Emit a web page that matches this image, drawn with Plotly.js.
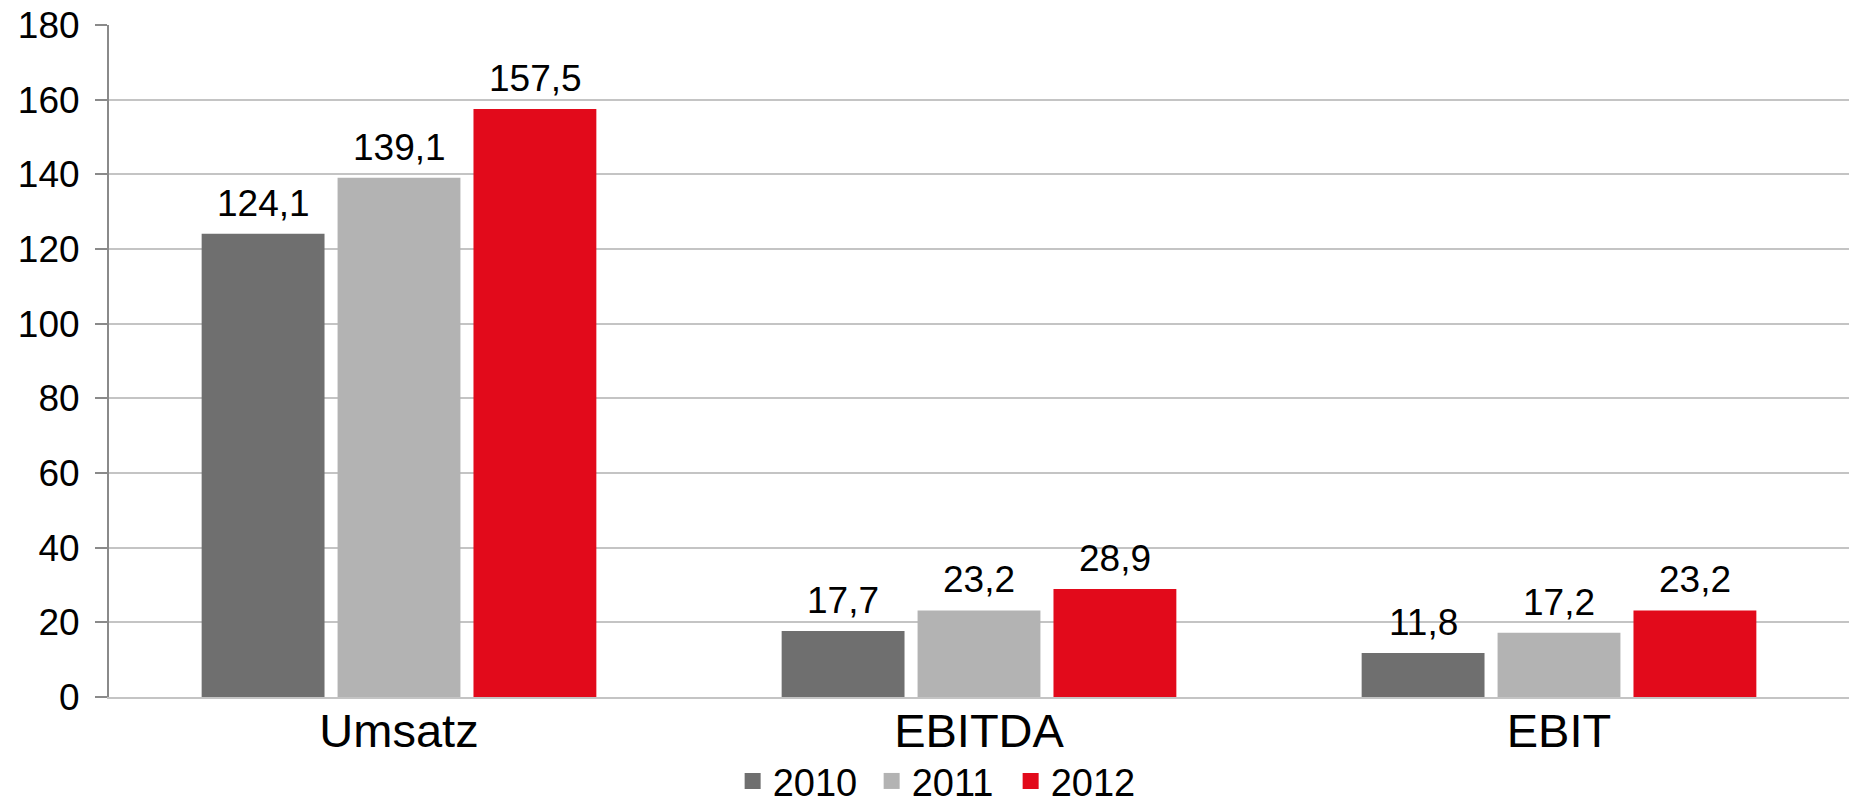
<!DOCTYPE html>
<html>
<head>
<meta charset="utf-8">
<script src="https://cdn.plot.ly/plotly-3.0.1.min.js"></script>
<style>html,body{margin:0;padding:0;background:#fff;}#chart{width:1849px;height:798px;}</style>
</head>
<body>
<div id="chart"></div>
<script>
const categories = ["Umsatz", "EBITDA", "EBIT"];
const years = ["2010", "2011", "2012"];
const values2010 = [124.1, 17.7, 11.8];
const values2011 = [139.1, 23.2, 17.2];
const values2012 = [157.5, 28.9, 23.2];
const yTicks = [0, 20, 40, 60, 80, 100, 120, 140, 160, 180];

const seriesValues = [values2010, values2011, values2012];
const colors = ["#6f6f6f", "#b3b3b3", "#e20a1b"];
const FONT = "Liberation Sans, Arial, sans-serif";

const traces = seriesValues.map((vals, i) => ({
  type: "bar",
  name: years[i],
  x: categories,
  y: vals,
  marker: {color: colors[i]},
  showlegend: false,
  hoverinfo: "x+y"
}));
// legend proxies (bigger square symbols)
years.forEach((yr, i) => {
  traces.push({
    type: "scatter", mode: "markers", name: yr,
    x: [null], y: [null],
    marker: {symbol: "square", size: 19, color: colors[i]},
    showlegend: true, hoverinfo: "skip"
  });
});

const annotations = [];
seriesValues.forEach((vals, i) => {
  vals.forEach((v, j) => {
    annotations.push({
      x: categories[j], y: v, xref: "x", yref: "y",
      text: v.toFixed(1).replace(".", ","),
      showarrow: false, yanchor: "bottom",
      xshift: (i - 1) * 136, yshift: 8,
      font: {family: FONT, size: 37, color: "#000"}
    });
  });
});

const layout = {
  width: 1849, height: 798,
  margin: {l: 109, r: 0, t: 25, b: 101},
  paper_bgcolor: "#fff", plot_bgcolor: "#fff",
  barmode: "group",
  bargap: 0.297,
  bargroupgap: 0.096,
  separators: ", ",
  font: {family: FONT, color: "#000"},
  xaxis: {
    type: "category",
    automargin: false,
    tickfont: {family: FONT, size: 47, color: "#000"},
    showline: true, linecolor: "#c4c4c4", linewidth: 2,
    ticks: "", showgrid: false, zeroline: false,
    ticklabelstandoff: -8
  },
  yaxis: {
    automargin: false,
    range: [0, 180],
    tickvals: yTicks,
    ticktext: yTicks.map(String),
    tickfont: {family: FONT, size: 37, color: "#000"},
    showline: true, linecolor: "#8a8a8a", linewidth: 2,
    ticks: "outside", ticklen: 12, tickwidth: 2, tickcolor: "#8a8a8a",
    showgrid: true, gridcolor: "#c4c4c4", gridwidth: 2,
    zeroline: false,
    ticklabelstandoff: 8
  },
  legend: {
    orientation: "h",
    x: 0.509, xanchor: "center", xref: "container",
    y: 0.021, yanchor: "middle", yref: "container",
    font: {family: FONT, size: 38, color: "#000"},
    entrywidth: 94, entrywidthmode: "pixels",
    bgcolor: "rgba(0,0,0,0)"
  },
  showlegend: true,
  annotations: annotations
};

Plotly.newPlot("chart", traces, layout, {displayModeBar: false});
</script>
</body>
</html>
